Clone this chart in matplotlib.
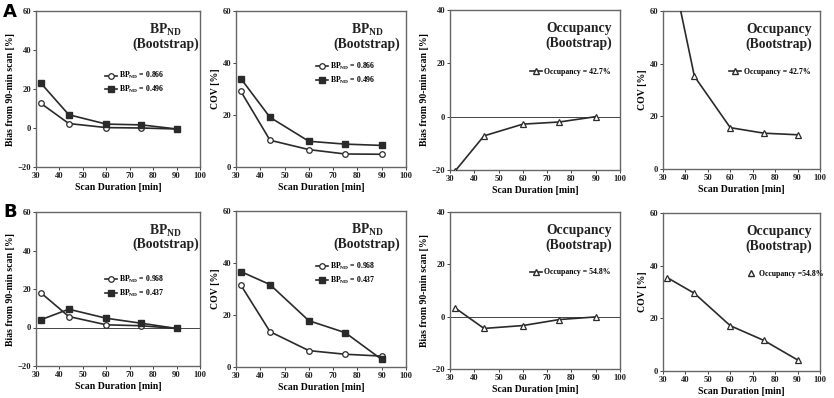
import matplotlib
matplotlib.use("Agg")
import matplotlib.pyplot as plt

plt.rcParams['font.family'] = ['Liberation Serif', 'DejaVu Serif']
plt.rcParams['font.weight'] = 'bold'
plt.rcParams['mathtext.fontset'] = 'custom'
plt.rcParams['mathtext.rm'] = 'Liberation Serif:bold'
plt.rcParams['mathtext.bf'] = 'Liberation Serif:bold'
plt.rcParams['mathtext.it'] = 'Liberation Serif:bold'

durations = [32, 44, 60, 75, 90]
x_ticks = [30, 40, 50, 60, 70, 80, 90, 100]

# Row A
a_bias_high = [12.7, 2.3, 0.2, 0.0, -0.5]    # BPND = 0.866
a_bias_low = [23.1, 6.8, 2.0, 1.6, -0.5]     # BPND = 0.496
a_cov_high = [29.1, 10.3, 6.7, 5.0, 4.9]
a_cov_low = [34.0, 19.1, 9.9, 8.8, 8.3]
a_occ_bias = [-20.5, -7.2, -2.8, -2.0, 0.0]  # Occupancy = 42.7%
a_occ_cov = [84.0, 35.2, 15.7, 13.6, 13.0]

# Row B
b_bias_high = [18.1, 5.7, 1.4, 0.9, -0.5]    # BPND = 0.968
b_bias_low = [4.0, 9.5, 4.8, 2.2, -0.5]      # BPND = 0.437
b_cov_high = [31.5, 13.6, 6.3, 4.9, 4.2]
b_cov_low = [36.7, 31.7, 17.8, 13.2, 2.9]
b_occ_bias = [3.4, -4.5, -3.4, -1.1, -0.1]   # Occupancy = 54.8%
b_occ_cov = [35.4, 29.5, 17.2, 11.6, 4.2]

W, H = 834, 398
fig = plt.figure(figsize=(W / 100, H / 100), dpi=100)

def add_ax(l, r, t, b):
    return fig.add_axes([l / W, 1 - b / H, (r - l) / W, (b - t) / H])

LC = '#2a2a2a'
BP = r'$\mathbf{BP_{ND}}$'

def style(ax, ylim, yticks, ylabel, zero=False):
    ax.set_xlim(30, 100)
    ax.set_ylim(*ylim)
    ax.set_xticks(x_ticks)
    ax.set_yticks(yticks)
    ax.tick_params(labelsize=6.2, length=2, width=0.6, pad=1.5, colors='#222')
    for lab in ax.get_xticklabels() + ax.get_yticklabels():
        lab.set_fontweight('bold')
    for s in ax.spines.values():
        s.set_color('#666')
        s.set_linewidth(1.0)
    ax.set_xlabel('Scan Duration [min]', fontsize=7, fontweight='bold', labelpad=2)
    ax.set_ylabel(ylabel, fontsize=7, fontweight='bold', labelpad=2)
    if zero:
        ax.axhline(0, color='#444', lw=0.7, zorder=1)

def title(ax, kind, cx=0.79):
    top = BP if kind == 'bp' else 'Occupancy'
    ty = 0.88 if kind == 'bp' else 0.885
    ax.text(cx, ty, top, transform=ax.transAxes, ha='center', va='center',
            fontsize=9.8, fontweight='bold', color='#222')
    ax.text(cx, 0.79, '(Bootstrap)', transform=ax.transAxes, ha='center', va='center',
            fontsize=9.8, fontweight='bold', color='#222')

def legend(ax, x0=0.40, y0=0.66):
    ax.legend(loc='upper left', bbox_to_anchor=(x0, y0), frameon=False,
              handlelength=1.6, labelspacing=0.35, handletextpad=0.3,
              borderaxespad=0, prop={'weight': 'bold', 'size': 5.6})

def bp_lines(ax, high, low, lh, ll):
    ax.plot(durations, high, '-o', color=LC, lw=1.2, ms=4, mfc='white', mec=LC, mew=0.9,
            label=BP + ' = ' + lh, zorder=3)
    ax.plot(durations, low, '-s', color=LC, lw=1.2, ms=4, mfc=LC, mec=LC,
            label=BP + ' = ' + ll, zorder=3)

def occ_line(ax, vals, lbl, marker_only_legend=False):
    ax.plot(durations, vals, '-^', color=LC, lw=1.2, ms=4, mfc='white', mec=LC, mew=0.9,
            zorder=3)
    if marker_only_legend:
        ax.plot([], [], '^', color=LC, ms=4, mfc='white', mec=LC, label=lbl)
    else:
        ax.plot([], [], '-^', color=LC, lw=1.2, ms=4, mfc='white', mec=LC, label=lbl)

# Row A
ax = add_ax(36, 200, 11, 167)
bp_lines(ax, a_bias_high, a_bias_low, '0.866', '0.496')
style(ax, (-20, 60), [-20, 0, 20, 40, 60], 'Bias from 90-min scan [%]')
title(ax, 'bp', 0.79); legend(ax, 0.40, 0.64)

ax = add_ax(236, 406, 11, 167)
bp_lines(ax, a_cov_high, a_cov_low, '0.866', '0.496')
style(ax, (0, 60), [0, 20, 40, 60], 'COV [%]')
title(ax, 'bp', 0.77); legend(ax, 0.45, 0.70)

ax = add_ax(450, 620, 10, 170)
occ_line(ax, a_occ_bias, 'Occupancy = 42.7%')
style(ax, (-20, 40), [-20, 0, 20, 40], 'Bias from 90-min scan [%]', zero=True)
title(ax, 'occ', 0.76); legend(ax, 0.45, 0.66)

ax = add_ax(663, 820, 11, 169)
occ_line(ax, a_occ_cov, 'Occupancy = 42.7%')
style(ax, (0, 60), [0, 20, 40, 60], 'COV [%]')
title(ax, 'occ', 0.74); legend(ax, 0.40, 0.66)

# Row B
ax = add_ax(36, 200, 212, 366)
bp_lines(ax, b_bias_high, b_bias_low, '0.968', '0.437')
style(ax, (-20, 60), [-20, 0, 20, 40, 60], 'Bias from 90-min scan [%]', zero=True)
title(ax, 'bp', 0.79); legend(ax, 0.40, 0.62)

ax = add_ax(236, 406, 211, 367)
bp_lines(ax, b_cov_high, b_cov_low, '0.968', '0.437')
style(ax, (0, 60), [0, 20, 40, 60], 'COV [%]')
title(ax, 'bp', 0.77); legend(ax, 0.45, 0.70)

ax = add_ax(450, 620, 212, 369)
occ_line(ax, b_occ_bias, 'Occupancy = 54.8%')
style(ax, (-20, 40), [-20, 0, 20, 40], 'Bias from 90-min scan [%]', zero=True)
title(ax, 'occ', 0.76); legend(ax, 0.45, 0.66)

ax = add_ax(663, 820, 213, 371)
occ_line(ax, b_occ_cov, 'Occupancy =54.8%', marker_only_legend=True)
style(ax, (0, 60), [0, 20, 40, 60], 'COV [%]')
title(ax, 'occ', 0.74); legend(ax, 0.50, 0.66)

fig.text(3 / W, 1 - 12 / H, 'A', fontsize=13, fontweight='bold', family='DejaVu Sans',
         va='center', ha='left')
fig.text(3 / W, 1 - 212 / H, 'B', fontsize=13, fontweight='bold', family='DejaVu Sans',
         va='center', ha='left')

fig.savefig('out.png', dpi=100)
